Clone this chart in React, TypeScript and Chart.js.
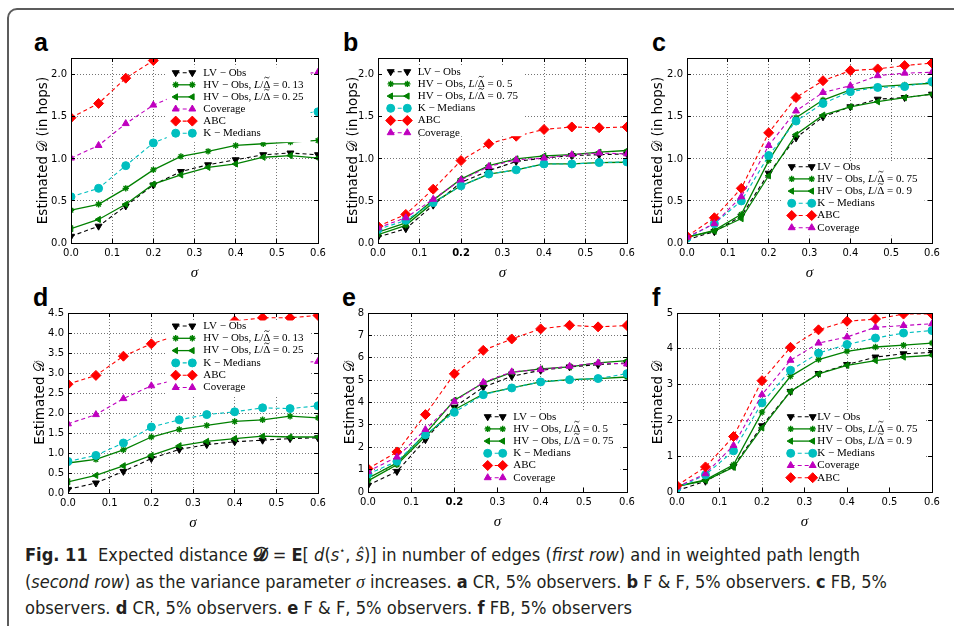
import React, { useEffect, useLayoutEffect, useRef } from 'react';
import { Chart, registerables } from 'chart.js';
import { drawPoint } from 'chart.js/helpers';

Chart.register(...registerables);

// ---------------- data ----------------
const SIGMA = [0, 0.067, 0.133, 0.2, 0.267, 0.333, 0.4, 0.467, 0.533, 0.6];
const X_TICKS = [0, 0.1, 0.2, 0.3, 0.4, 0.5, 0.6];
const Y_TICKS_HOPS = [0, 0.5, 1.0, 1.5, 2.0];
const Y_TICKS_D = [0, 0.5, 1, 1.5, 2, 2.5, 3, 3.5, 4, 4.5];
const Y_TICKS_E = [0, 1, 2, 3, 4, 5, 6, 7, 8];
const Y_TICKS_F = [0, 1, 2, 3, 4, 5];

// panel a (CR, hops)
const aLV = [0.08, 0.2, 0.44, 0.69, 0.85, 0.93, 0.99, 1.05, 1.07, 1.05];
const aHV13 = [0.39, 0.46, 0.65, 0.87, 1.03, 1.09, 1.16, 1.18, 1.2, 1.22];
const aHV25 = [0.17, 0.28, 0.46, 0.7, 0.81, 0.9, 0.94, 1.02, 1.04, 1.01];
const aCoverage = [1.01, 1.16, 1.42, 1.64, 1.78, 1.88, 1.94, 1.98, 2.0, 2.03];
const aABC = [1.49, 1.66, 1.96, 2.17, 2.35, 2.45, 2.5, 2.55, 2.58, 2.6];
const aKMedians = [0.55, 0.65, 0.92, 1.19, 1.32, 1.4, 1.46, 1.5, 1.53, 1.56];

// panel b (F&F, hops)
const bLV = [0.07, 0.17, 0.45, 0.72, 0.86, 0.97, 1.01, 1.04, 1.05, 1.06];
const bHV5 = [0.1, 0.21, 0.48, 0.68, 0.82, 0.87, 0.94, 0.94, 0.955, 0.96];
const bHV75 = [0.13, 0.24, 0.51, 0.76, 0.92, 1.0, 1.035, 1.05, 1.08, 1.1];
const bKMedians = [0.16, 0.27, 0.48, 0.68, 0.82, 0.87, 0.94, 0.94, 0.956, 0.964];
const bABC = [0.2, 0.34, 0.64, 0.98, 1.18, 1.27, 1.35, 1.38, 1.37, 1.38];
const bCoverage = [0.18, 0.3, 0.52, 0.75, 0.91, 0.99, 1.01, 1.05, 1.07, 1.06];

// panel c (FB, hops)
const cLV = [0.04, 0.135, 0.32, 0.83, 1.25, 1.5, 1.62, 1.71, 1.73, 1.77];
const cHV75 = [0.07, 0.15, 0.34, 0.98, 1.49, 1.7, 1.82, 1.86, 1.88, 1.9];
const cHV9 = [0.07, 0.14, 0.29, 0.8, 1.29, 1.52, 1.62, 1.68, 1.73, 1.77];
const cKMedians = [0.06, 0.23, 0.5, 1.04, 1.45, 1.66, 1.8, 1.85, 1.86, 1.92];
const cABC = [0.08, 0.3, 0.65, 1.31, 1.73, 1.93, 2.05, 2.07, 2.11, 2.14];
const cCoverage = [0.07, 0.23, 0.55, 1.16, 1.57, 1.79, 1.87, 1.99, 2.02, 2.03];

// panel d (CR, weighted)
const dLV = [0.09, 0.25, 0.54, 0.86, 1.09, 1.21, 1.28, 1.32, 1.36, 1.38];
const dHV13 = [0.75, 0.84, 1.08, 1.4, 1.59, 1.69, 1.79, 1.83, 1.92, 1.88];
const dHV25 = [0.28, 0.44, 0.68, 0.94, 1.18, 1.29, 1.36, 1.42, 1.4, 1.4];
const dKMedians = [0.79, 0.94, 1.25, 1.65, 1.83, 1.96, 2.03, 2.13, 2.11, 2.18];
const dABC = [2.72, 2.94, 3.42, 3.73, 3.95, 4.15, 4.3, 4.38, 4.38, 4.44];
const dCoverage = [1.73, 1.96, 2.36, 2.68, 2.85, 3.0, 3.1, 3.18, 3.24, 3.29];

// panel e (F&F, weighted)
const eLV = [0.3, 0.92, 2.34, 3.79, 4.68, 5.17, 5.44, 5.59, 5.69, 5.77];
const eHV5 = [0.5, 1.22, 2.49, 3.68, 4.38, 4.65, 4.92, 5.02, 5.07, 5.14];
const eHV75 = [0.62, 1.3, 2.61, 4.1, 4.87, 5.35, 5.5, 5.59, 5.77, 5.87];
const eKMedians = [0.8, 1.37, 2.56, 3.56, 4.35, 4.65, 4.92, 5.02, 5.07, 5.29];
const eABC = [1.04, 1.79, 3.46, 5.28, 6.33, 6.84, 7.29, 7.45, 7.38, 7.44];
const eCoverage = [0.92, 1.56, 2.79, 4.05, 4.9, 5.37, 5.47, 5.62, 5.77, 5.72];

// panel f (FB, weighted)
const fLV = [0.04, 0.3, 0.72, 1.85, 2.81, 3.31, 3.56, 3.77, 3.86, 3.9];
const fHV75 = [0.16, 0.34, 0.76, 2.23, 3.23, 3.7, 3.93, 4.05, 4.1, 4.16];
const fHV9 = [0.16, 0.32, 0.69, 1.79, 2.81, 3.3, 3.54, 3.67, 3.77, 3.82];
const fKMedians = [0.11, 0.48, 1.15, 2.49, 3.4, 3.88, 4.12, 4.3, 4.44, 4.51];
const fCoverage = [0.14, 0.51, 1.3, 2.72, 3.68, 4.16, 4.33, 4.6, 4.65, 4.7];
const fABC = [0.18, 0.7, 1.55, 3.11, 4.04, 4.53, 4.77, 4.83, 4.97, 4.97];

// ---------------- labels ----------------
type Seg = { t: string; it?: boolean; tilde?: boolean };
const LBL_LV: Seg[] = [{ t: 'LV − Obs' }];
const hv = (r: string): Seg[] => [
  { t: 'HV − Obs, ' },
  { t: 'L', it: true },
  { t: '/' },
  { t: 'Δ', tilde: true },
  { t: ' = ' + r },
];
const LBL_KM: Seg[] = [{ t: 'K − Medians' }];
const LBL_ABC: Seg[] = [{ t: 'ABC' }];
const LBL_COV: Seg[] = [{ t: 'Coverage' }];

// ---------------- styles ----------------
type Key = 'LV' | 'HVs' | 'HVt' | 'COV' | 'ABC' | 'KM';
const STYLE: Record<Key, any> = {
  LV: { color: '#000000', dash: [4, 3], point: 'triangle', rot: 180, r: 4, width: 1.1, pw: 1 },
  HVs: { color: '#008000', dash: [], point: 'star', rot: 0, r: 3.2, width: 1.3, pw: 1.4 },
  HVt: { color: '#008000', dash: [], point: 'triangle', rot: -90, r: 3.6, width: 1.3, pw: 1 },
  COV: { color: '#bf00bf', dash: [4, 3], point: 'triangle', rot: 0, r: 4, width: 1.1, pw: 1 },
  ABC: { color: '#ff0000', dash: [4, 3], point: 'rectRot', rot: 0, r: 5, width: 1.1, pw: 1 },
  KM: { color: '#00bfbf', dash: [4, 3], point: 'circle', rot: 0, r: 4, width: 1.1, pw: 1 },
};

type Entry = { key: Key; label: Seg[]; data: number[] };
type PanelDef = {
  id: string;
  L: number; R: number; T: number; B: number;
  yMax: number; yTicks: number[]; dec: number;
  yTitle: string; yOff: number; bold02: boolean;
  entries: Entry[];
  leg: { m1: number; m2: number; tx: number; y0: number; dy: number; padB: number };
  letter: { x: number; y: number };
};

const HOPS = 'Estimated 𝒟 (in hops)';
const WEIGHTED = 'Estimated 𝒟';

const PANELS: PanelDef[] = [
  {
    id: 'a', L: 71, R: 318, T: 58, B: 243, yMax: 2.2, yTicks: Y_TICKS_HOPS, dec: 1,
    yTitle: HOPS, yOff: 28, bold02: false,
    entries: [
      { key: 'LV', label: LBL_LV, data: aLV },
      { key: 'HVs', label: hv('0.\u200913'), data: aHV13 },
      { key: 'HVt', label: hv('0.\u200925'), data: aHV25 },
      { key: 'COV', label: LBL_COV, data: aCoverage },
      { key: 'ABC', label: LBL_ABC, data: aABC },
      { key: 'KM', label: LBL_KM, data: aKMedians },
    ],
    leg: { m1: 175.7, m2: 192.3, tx: 203.3, y0: 72.7, dy: 12.1, padB: 9 },
    letter: { x: 34, y: 51 },
  },
  {
    id: 'b', L: 378, R: 627, T: 58, B: 243, yMax: 2.2, yTicks: Y_TICKS_HOPS, dec: 1,
    yTitle: HOPS, yOff: 25, bold02: true,
    entries: [
      { key: 'LV', label: LBL_LV, data: bLV },
      { key: 'HVs', label: hv('0.\u20095'), data: bHV5 },
      { key: 'HVt', label: hv('0.\u200975'), data: bHV75 },
      { key: 'KM', label: LBL_KM, data: bKMedians },
      { key: 'ABC', label: LBL_ABC, data: bABC },
      { key: 'COV', label: LBL_COV, data: bCoverage },
    ],
    leg: { m1: 390.7, m2: 407.3, tx: 417.7, y0: 71.7, dy: 12.2, padB: 3.5 },
    letter: { x: 343, y: 51 },
  },
  {
    id: 'c', L: 687, R: 932, T: 58, B: 243, yMax: 2.2, yTicks: Y_TICKS_HOPS, dec: 1,
    yTitle: HOPS, yOff: 29, bold02: false,
    entries: [
      { key: 'LV', label: LBL_LV, data: cLV },
      { key: 'HVs', label: hv('0.\u200975'), data: cHV75 },
      { key: 'HVt', label: hv('0.\u20099'), data: cHV9 },
      { key: 'KM', label: LBL_KM, data: cKMedians },
      { key: 'ABC', label: LBL_ABC, data: cABC },
      { key: 'COV', label: LBL_COV, data: cCoverage },
    ],
    leg: { m1: 791.7, m2: 811.7, tx: 817.3, y0: 166.7, dy: 12.2, padB: 8 },
    letter: { x: 652, y: 51 },
  },
  {
    id: 'd', L: 68, R: 318, T: 313, B: 493, yMax: 4.5, yTicks: Y_TICKS_D, dec: 1,
    yTitle: WEIGHTED, yOff: 28, bold02: false,
    entries: [
      { key: 'LV', label: LBL_LV, data: dLV },
      { key: 'HVs', label: hv('0.\u200913'), data: dHV13 },
      { key: 'HVt', label: hv('0.\u200925'), data: dHV25 },
      { key: 'KM', label: LBL_KM, data: dKMedians },
      { key: 'ABC', label: LBL_ABC, data: dABC },
      { key: 'COV', label: LBL_COV, data: dCoverage },
    ],
    leg: { m1: 175.7, m2: 192.3, tx: 203.3, y0: 326, dy: 12.3, padB: 8 },
    letter: { x: 33, y: 306 },
  },
  {
    id: 'e', L: 368, R: 627, T: 313, B: 492, yMax: 8, yTicks: Y_TICKS_E, dec: 0,
    yTitle: WEIGHTED, yOff: 18, bold02: true,
    entries: [
      { key: 'LV', label: LBL_LV, data: eLV },
      { key: 'HVs', label: hv('0.\u20095'), data: eHV5 },
      { key: 'HVt', label: hv('0.\u200975'), data: eHV75 },
      { key: 'KM', label: LBL_KM, data: eKMedians },
      { key: 'ABC', label: LBL_ABC, data: eABC },
      { key: 'COV', label: LBL_COV, data: eCoverage },
    ],
    leg: { m1: 487.7, m2: 502.7, tx: 513.3, y0: 416.7, dy: 12.2, padB: 8 },
    letter: { x: 342, y: 306 },
  },
  {
    id: 'f', L: 677, R: 932, T: 313, B: 492, yMax: 5, yTicks: Y_TICKS_F, dec: 0,
    yTitle: WEIGHTED, yOff: 19, bold02: false,
    entries: [
      { key: 'LV', label: LBL_LV, data: fLV },
      { key: 'HVs', label: hv('0.\u200975'), data: fHV75 },
      { key: 'HVt', label: hv('0.\u20099'), data: fHV9 },
      { key: 'KM', label: LBL_KM, data: fKMedians },
      { key: 'COV', label: LBL_COV, data: fCoverage },
      { key: 'ABC', label: LBL_ABC, data: fABC },
    ],
    leg: { m1: 790.7, m2: 812.7, tx: 817.3, y0: 416.7, dy: 12.2, padB: 8 },
    letter: { x: 652, y: 306 },
  },
];

// ---------------- geometry ----------------
const PAD_L = 62, PAD_T = 14, PAD_R = 16, PAD_B = 44;
const TICK_FONT = '"DejaVu Sans", "Liberation Sans", sans-serif';
const SERIF = '"Liberation Serif", "DejaVu Serif", serif';

const al = (v: number) => Math.round(v - 0.5) + 0.5;

function setMarkerStyle(ctx: CanvasRenderingContext2D, st: any) {
  ctx.setLineDash([]);
  ctx.fillStyle = st.color;
  ctx.strokeStyle = st.color;
  ctx.lineWidth = st.pw;
}

function makeDeco(p: PanelDef) {
  const ox = p.L - PAD_L, oy = p.T - PAD_T;
  return {
    id: 'deco_' + p.id,
    beforeDatasetsDraw(chart: any) {
      const { ctx, chartArea: ca, scales } = chart;
      ctx.save();
      ctx.strokeStyle = 'rgba(0,0,0,0.55)';
      ctx.lineWidth = 1;
      ctx.setLineDash([1, 2]);
      ctx.beginPath();
      scales.x.ticks.forEach((t: any) => {
        const px = al(scales.x.getPixelForValue(t.value));
        ctx.moveTo(px, ca.top);
        ctx.lineTo(px, ca.bottom);
      });
      scales.y.ticks.forEach((t: any) => {
        const py = al(scales.y.getPixelForValue(t.value));
        ctx.moveTo(ca.left, py);
        ctx.lineTo(ca.right, py);
      });
      ctx.stroke();
      ctx.restore();
    },
    afterDatasetsDraw(chart: any) {
      const { ctx, chartArea: ca, scales } = chart;
      ctx.save();
      // ---- legend ----
      const fR = '11px ' + SERIF;
      const fI = 'italic 11px ' + SERIF;
      let maxW = 0;
      p.entries.forEach((e) => {
        let w = 0;
        e.label.forEach((s) => {
          ctx.font = s.it ? fI : fR;
          w += ctx.measureText(s.t).width;
        });
        maxW = Math.max(maxW, w);
      });
      const m1 = p.leg.m1 - ox, m2 = p.leg.m2 - ox, tx = p.leg.tx - ox;
      const y0 = p.leg.y0 - oy;
      const n = p.entries.length;
      const bl = m1 - 9;
      const br = Math.min(tx + maxW + 7, ca.right - 4);
      const bt = y0 - 5.5;
      const bb = y0 + (n - 1) * p.leg.dy + p.leg.padB;
      ctx.fillStyle = '#ffffff';
      ctx.fillRect(bl, bt, br - bl, bb - bt);
      p.entries.forEach((e, i) => {
        const st = STYLE[e.key];
        const y = y0 + i * p.leg.dy;
        ctx.save();
        ctx.strokeStyle = st.color;
        ctx.lineWidth = st.width;
        ctx.setLineDash(st.dash);
        ctx.beginPath();
        ctx.moveTo(m1, y);
        ctx.lineTo(m2, y);
        ctx.stroke();
        ctx.restore();
        [m1, m2].forEach((mx) => {
          ctx.save();
          setMarkerStyle(ctx, st);
          drawPoint(ctx, { pointStyle: st.point, rotation: st.rot, radius: st.r, borderWidth: st.pw }, mx, y);
          ctx.restore();
        });
        let x = tx;
        ctx.fillStyle = '#000';
        ctx.textBaseline = 'middle';
        ctx.textAlign = 'left';
        e.label.forEach((s) => {
          ctx.font = s.it ? fI : fR;
          ctx.fillText(s.t, x, y);
          const w = ctx.measureText(s.t).width;
          if (s.tilde) {
            const cx = x + w / 2, ty = y - 7.2;
            ctx.save();
            ctx.strokeStyle = '#000';
            ctx.lineWidth = 0.8;
            ctx.beginPath();
            ctx.moveTo(cx - 2.6, ty + 0.6);
            ctx.quadraticCurveTo(cx - 1.5, ty - 1.2, cx, ty);
            ctx.quadraticCurveTo(cx + 1.5, ty + 1.2, cx + 2.6, ty - 0.6);
            ctx.stroke();
            ctx.restore();
          }
          x += w;
        });
      });
      // ---- inward ticks ----
      ctx.strokeStyle = '#000';
      ctx.lineWidth = 1;
      ctx.setLineDash([]);
      ctx.beginPath();
      scales.x.ticks.forEach((t: any) => {
        const px = al(scales.x.getPixelForValue(t.value));
        ctx.moveTo(px, ca.bottom);
        ctx.lineTo(px, ca.bottom - 4);
        ctx.moveTo(px, ca.top);
        ctx.lineTo(px, ca.top + 4);
      });
      scales.y.ticks.forEach((t: any) => {
        const py = al(scales.y.getPixelForValue(t.value));
        ctx.moveTo(ca.left, py);
        ctx.lineTo(ca.left + 4, py);
        ctx.moveTo(ca.right, py);
        ctx.lineTo(ca.right - 4, py);
      });
      ctx.stroke();
      // ---- frame ----
      const fl = al(ca.left), fr = al(ca.right), ft = al(ca.top), fb = al(ca.bottom);
      ctx.strokeRect(fl, ft, fr - fl, fb - ft);
      ctx.restore();
    },
    afterDraw(chart: any) {
      const { ctx, chartArea: ca } = chart;
      ctx.save();
      ctx.fillStyle = '#000';
      ctx.textAlign = 'center';
      ctx.textBaseline = 'middle';
      ctx.font = '13.5px ' + TICK_FONT;
      ctx.translate(ca.left - p.yOff, (ca.top + ca.bottom) / 2);
      ctx.rotate(-Math.PI / 2);
      ctx.fillText(p.yTitle, 0, 0);
      ctx.restore();
      ctx.save();
      ctx.fillStyle = '#000';
      ctx.textAlign = 'center';
      ctx.textBaseline = 'middle';
      ctx.font = 'italic 15px ' + SERIF;
      ctx.fillText('σ', (ca.left + ca.right) / 2, ca.bottom + 30);
      ctx.restore();
    },
  };
}

function makeConfig(p: PanelDef): any {
  const datasets = p.entries.map((e, i) => {
    const st = STYLE[e.key];
    return {
      label: e.key,
      data: SIGMA.map((x, j) => ({ x, y: e.data[j] })),
      borderColor: st.color,
      backgroundColor: st.color,
      borderWidth: st.width,
      borderDash: st.dash,
      pointStyle: st.point,
      pointRotation: st.rot,
      pointRadius: st.r,
      pointBorderWidth: st.pw,
      pointBackgroundColor: st.color,
      pointBorderColor: st.color,
      tension: 0,
      fill: false,
      clip: 0,
      order: -i,
    };
  });
  const tickFont = (c: any) => ({
    family: TICK_FONT,
    size: 10,
    weight: p.bold02 && c.tick && Math.abs(c.tick.value - 0.2) < 1e-6 ? 'bold' : 'normal',
  });
  return {
    type: 'line',
    data: { datasets },
    options: {
      responsive: false,
      animation: false,
      devicePixelRatio: 1,
      layout: { padding: { left: 0, right: PAD_R, top: PAD_T, bottom: 0 } },
      plugins: { legend: { display: false }, tooltip: { enabled: false } },
      scales: {
        x: {
          type: 'linear',
          min: 0,
          max: 0.6,
          afterBuildTicks: (s: any) => { s.ticks = X_TICKS.map((v) => ({ value: v })); },
          afterFit: (s: any) => { s.height = PAD_B; },
          ticks: {
            callback: (v: any) => Number(v).toFixed(1),
            font: tickFont,
            color: '#000',
            padding: 4,
            maxRotation: 0,
            autoSkip: false,
          },
          grid: { display: false, drawTicks: false },
          border: { display: false },
        },
        y: {
          type: 'linear',
          min: 0,
          max: p.yMax,
          afterBuildTicks: (s: any) => { s.ticks = p.yTicks.map((v) => ({ value: v })); },
          afterFit: (s: any) => { s.width = PAD_L; },
          ticks: {
            callback: (v: any) => Number(v).toFixed(p.dec),
            font: { family: TICK_FONT, size: 10 },
            color: '#000',
            padding: 4,
            autoSkip: false,
          },
          grid: { display: false, drawTicks: false },
          border: { display: false },
        },
      },
    },
    plugins: [makeDeco(p)],
  };
}

function Panel({ p }: { p: PanelDef }) {
  const ref = useRef<HTMLCanvasElement>(null);
  const w = p.R - p.L + PAD_L + PAD_R;
  const h = p.B - p.T + PAD_T + PAD_B;
  useEffect(() => {
    const chart = new Chart(ref.current as HTMLCanvasElement, makeConfig(p));
    return () => chart.destroy();
  }, []);
  return (
    <canvas
      ref={ref}
      width={w}
      height={h}
      style={{ position: 'absolute', left: p.L - PAD_L, top: p.T - PAD_T, width: w, height: h }}
    />
  );
}

const CAP_FONT = '"Liberation Sans Narrow", "DejaVu Sans Condensed", "DejaVu Sans", sans-serif';
const CAP_WIDTHS = [835, 862, 607];

export default function App() {
  const lineRefs = [useRef<HTMLDivElement>(null), useRef<HTMLDivElement>(null), useRef<HTMLDivElement>(null)];
  const spanRefs = [useRef<HTMLSpanElement>(null), useRef<HTMLSpanElement>(null), useRef<HTMLSpanElement>(null)];
  useLayoutEffect(() => {
    lineRefs.forEach((lr, i) => {
      const sp = spanRefs[i].current;
      if (lr.current && sp) {
        const w = sp.getBoundingClientRect().width;
        if (w > 0) lr.current.style.transform = `scaleX(${CAP_WIDTHS[i] / w})`;
      }
    });
  }, []);
  const lineStyle: React.CSSProperties = { transformOrigin: '0 0', whiteSpace: 'nowrap' };
  return (
    <div style={{ position: 'absolute', left: 0, top: 0, width: 954, height: 626, overflow: 'hidden', background: '#fff' }}>
      <div
        style={{
          position: 'absolute', left: 7, top: 8, width: 1000, height: 700,
          border: '2px solid #5c5c5c', borderRadius: 10, boxSizing: 'border-box',
        }}
      />
      {PANELS.map((p) => (
        <div
          key={'l' + p.id}
          style={{
            position: 'absolute', left: p.letter.x, top: p.letter.y - 21.2,
            font: 'bold 25px "Liberation Sans", Arial, sans-serif', lineHeight: '25px', color: '#000',
          }}
        >
          {p.id}
        </div>
      ))}
      {PANELS.map((p) => (
        <Panel key={p.id} p={p} />
      ))}
      <div
        style={{
          position: 'absolute', left: 25, top: 542, width: 920,
          fontFamily: CAP_FONT, fontSize: 18.5, lineHeight: '26.5px', color: '#231f20',
        }}
      >
        <div ref={lineRefs[0]} style={lineStyle}>
          <span ref={spanRefs[0]}>
            <b>Fig. 11</b>&nbsp; Expected distance <b>𝓓</b> = <b>E</b>[ <i>d</i>(<i>s</i>
            <sup style={{ fontSize: 11, lineHeight: 0 }}>⋆</sup>, <i>ŝ</i>)] in number of edges (<i>first row</i>) and in weighted path length
          </span>
        </div>
        <div ref={lineRefs[1]} style={lineStyle}>
          <span ref={spanRefs[1]}>
            (<i>second row</i>) as the variance parameter <i style={{ fontFamily: SERIF }}>σ</i> increases. <b>a</b> CR, 5% observers. <b>b</b> F &amp; F, 5% observers. <b>c</b> FB, 5%
          </span>
        </div>
        <div ref={lineRefs[2]} style={lineStyle}>
          <span ref={spanRefs[2]}>
            observers. <b>d</b> CR, 5% observers. <b>e</b> F &amp; F, 5% observers. <b>f</b> FB, 5% observers
          </span>
        </div>
      </div>
    </div>
  );
}
